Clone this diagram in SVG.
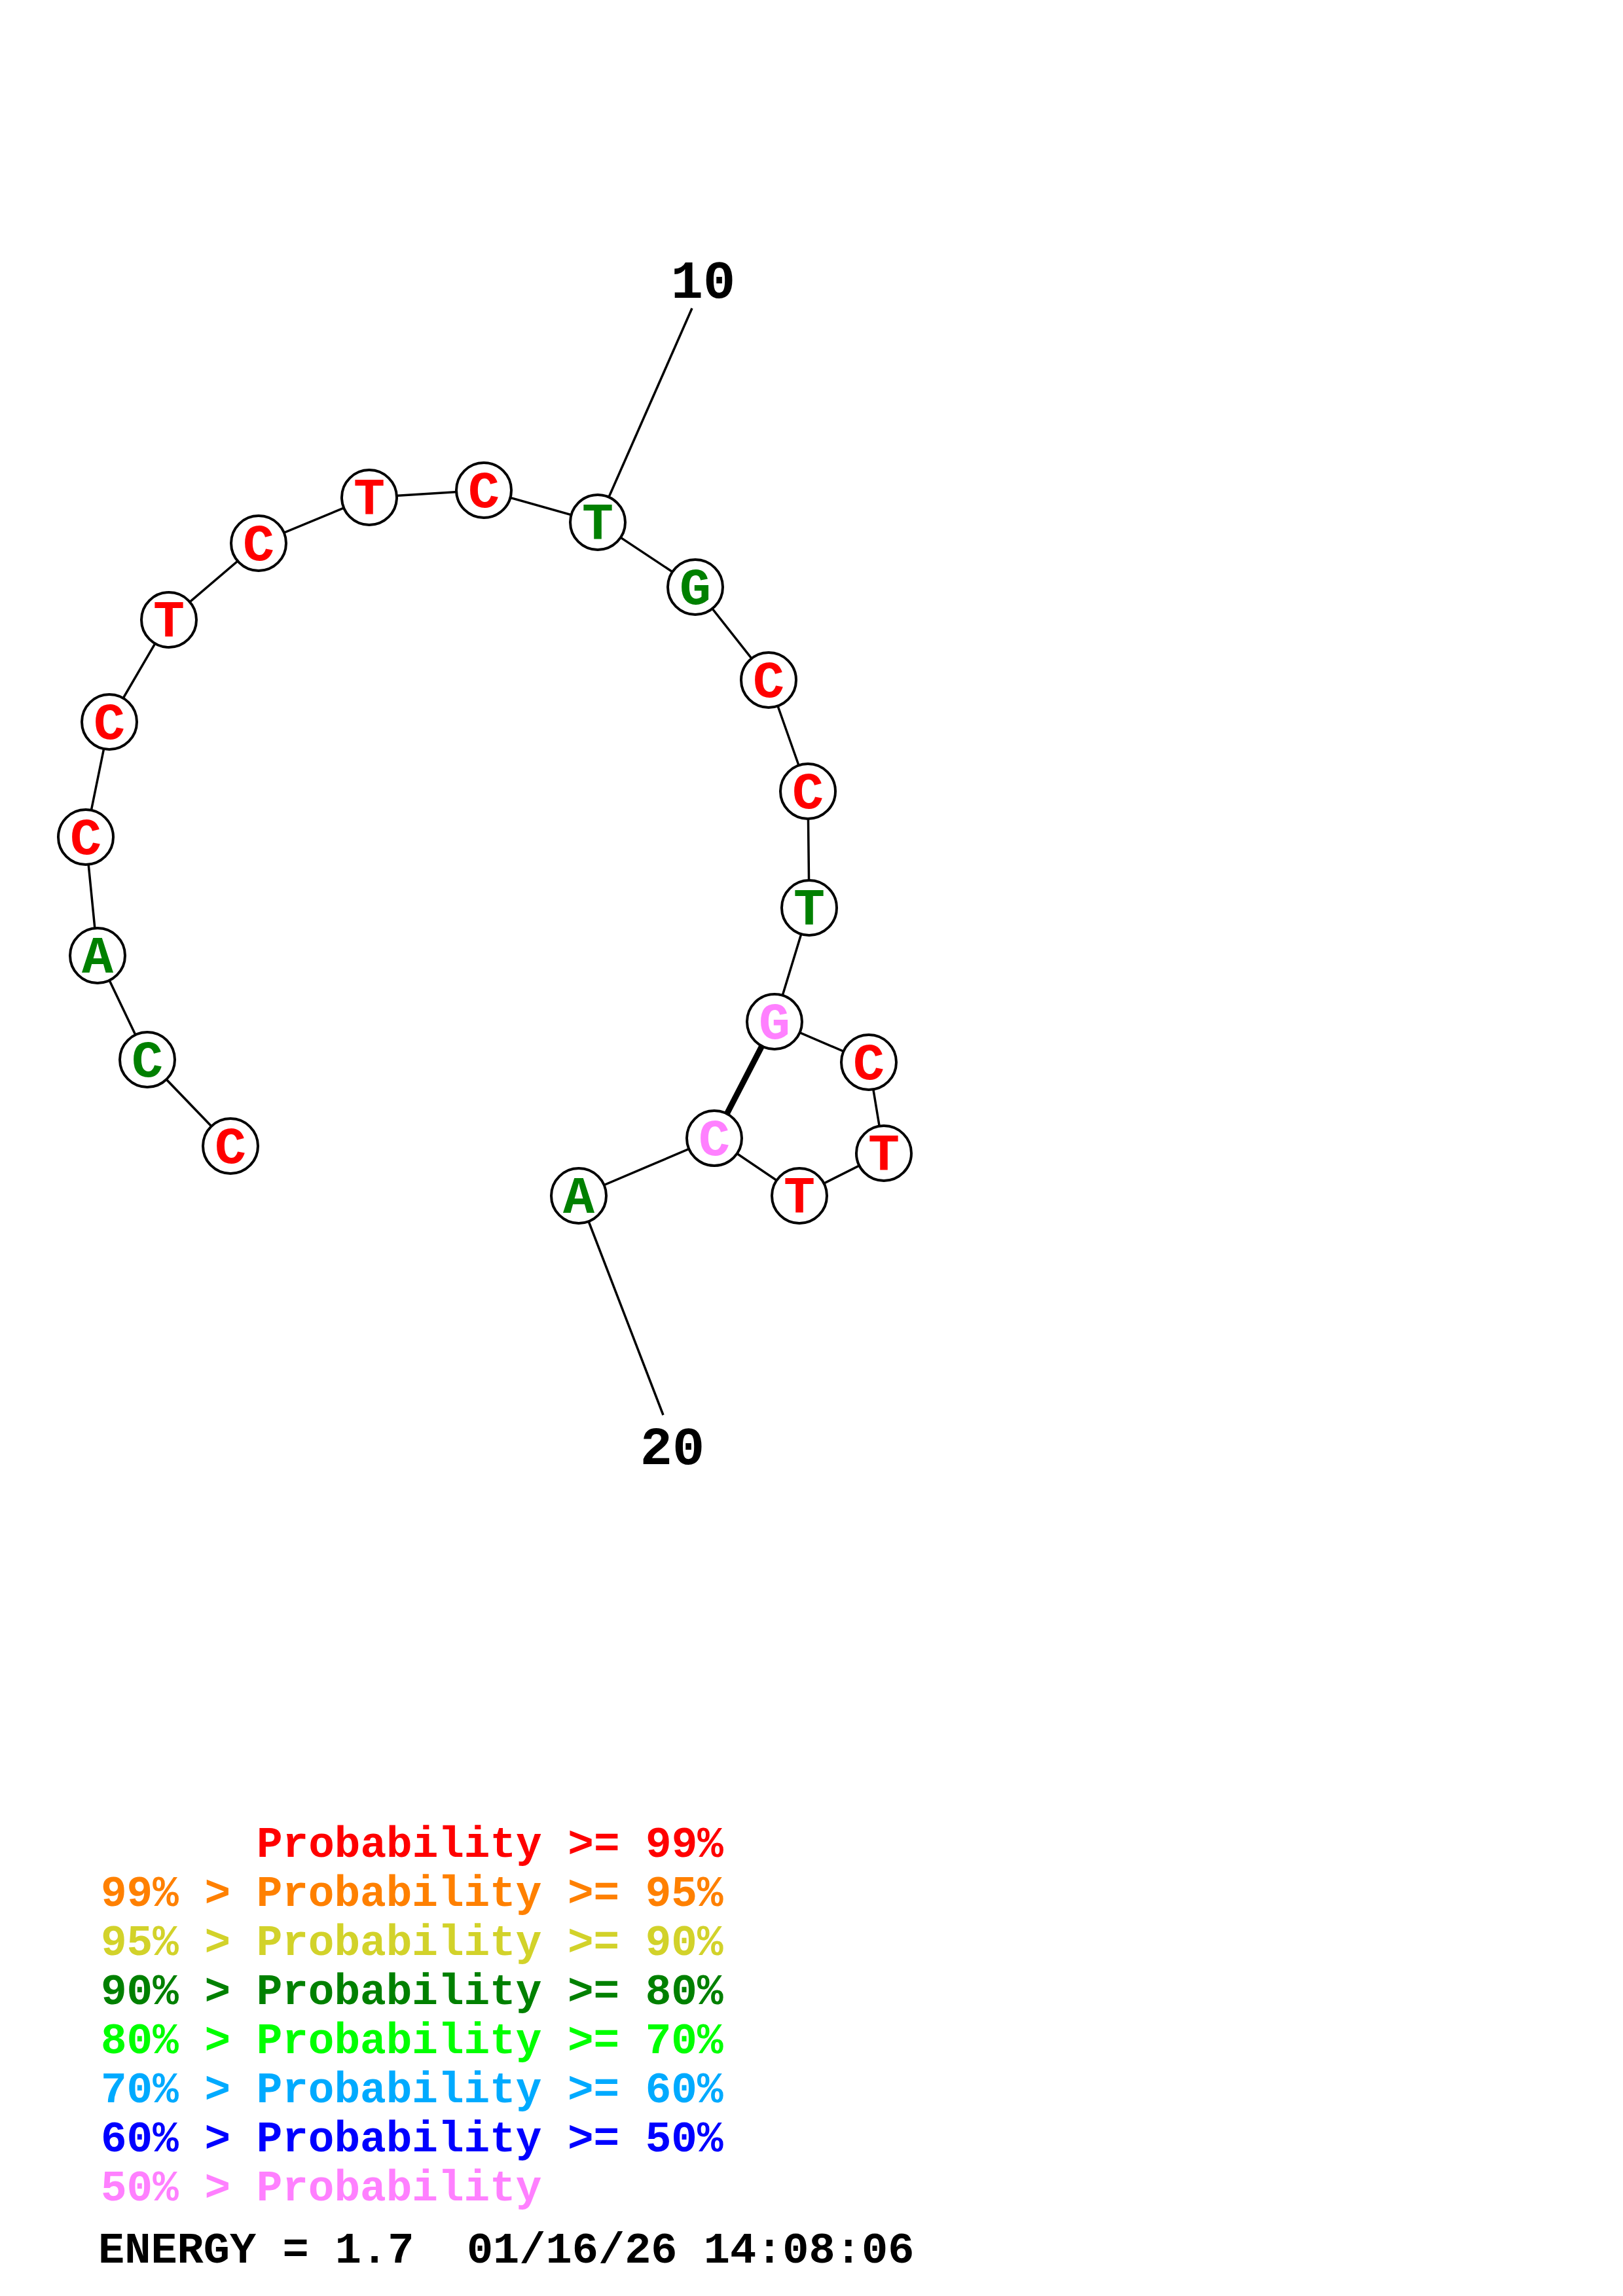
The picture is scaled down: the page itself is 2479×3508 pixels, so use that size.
<svg xmlns="http://www.w3.org/2000/svg" width="2479" height="3508" viewBox="0 0 2479 3508">
<style>
.bg{fill:#ffffff}
.ln{stroke:#000;stroke-width:3.5;fill:none}
.pair{stroke:#000;stroke-width:9;fill:none}
.nd{fill:#fff;stroke:#000;stroke-width:4}
.t{font-family:"Liberation Mono","Courier New",monospace;font-weight:bold;font-size:80px;text-anchor:middle}
.lab{font-family:"Liberation Mono","Courier New",monospace;font-weight:bold;font-size:82px;text-anchor:middle;fill:#000}
.lg{font-family:"Liberation Mono","Courier New",monospace;font-weight:bold;font-size:66px;white-space:pre}
.r{fill:#ff0000}.g{fill:#008000}.p{fill:#ff80ff}
</style>
<rect class="bg" x="0" y="0" width="2479" height="3508"/>
<g id="connectors">
<polyline class="ln" points="352,1751 225,1619 149,1460 131,1279 167,1103 258,947 395,830 564,760 739,749 913,798 1062,897 1174,1039 1234,1209 1236,1387 1183,1561 1327,1623 1350,1762 1221,1827 1091,1739 884,1827"/>
<line class="ln" x1="1057" y1="471" x2="913" y2="798"/>
<line class="ln" x1="884" y1="1827" x2="1013" y2="2162"/>
<line class="pair" x1="1183" y1="1561" x2="1091" y2="1739"/>
</g>
<g id="n1"><circle class="nd" cx="352" cy="1751" r="42"/><text class="t r" x="352" y="1777">C</text></g>
<g id="n2"><circle class="nd" cx="225" cy="1619" r="42"/><text class="t g" x="225" y="1645">C</text></g>
<g id="n3"><circle class="nd" cx="149" cy="1460" r="42"/><text class="t g" x="149" y="1486">A</text></g>
<g id="n4"><circle class="nd" cx="131" cy="1279" r="42"/><text class="t r" x="131" y="1305">C</text></g>
<g id="n5"><circle class="nd" cx="167" cy="1103" r="42"/><text class="t r" x="167" y="1129">C</text></g>
<g id="n6"><circle class="nd" cx="258" cy="947" r="42"/><text class="t r" x="258" y="973">T</text></g>
<g id="n7"><circle class="nd" cx="395" cy="830" r="42"/><text class="t r" x="395" y="856">C</text></g>
<g id="n8"><circle class="nd" cx="564" cy="760" r="42"/><text class="t r" x="564" y="786">T</text></g>
<g id="n9"><circle class="nd" cx="739" cy="749" r="42"/><text class="t r" x="739" y="775">C</text></g>
<g id="n10"><circle class="nd" cx="913" cy="798" r="42"/><text class="t g" x="913" y="824">T</text></g>
<g id="n11"><circle class="nd" cx="1062" cy="897" r="42"/><text class="t g" x="1062" y="923">G</text></g>
<g id="n12"><circle class="nd" cx="1174" cy="1039" r="42"/><text class="t r" x="1174" y="1065">C</text></g>
<g id="n13"><circle class="nd" cx="1234" cy="1209" r="42"/><text class="t r" x="1234" y="1235">C</text></g>
<g id="n14"><circle class="nd" cx="1236" cy="1387" r="42"/><text class="t g" x="1236" y="1413">T</text></g>
<g id="n15"><circle class="nd" cx="1183" cy="1561" r="42"/><text class="t p" x="1183" y="1587">G</text></g>
<g id="n16"><circle class="nd" cx="1327" cy="1623" r="42"/><text class="t r" x="1327" y="1649">C</text></g>
<g id="n17"><circle class="nd" cx="1350" cy="1762" r="42"/><text class="t r" x="1350" y="1788">T</text></g>
<g id="n18"><circle class="nd" cx="1221" cy="1827" r="42"/><text class="t r" x="1221" y="1853">T</text></g>
<g id="n19"><circle class="nd" cx="1091" cy="1739" r="42"/><text class="t p" x="1091" y="1765">C</text></g>
<g id="n20"><circle class="nd" cx="884" cy="1827" r="42"/><text class="t g" x="884" y="1853">A</text></g>
<g id="label10"><text class="lab" x="1074" y="455">10</text></g>
<g id="label20"><text class="lab" x="1027" y="2237">20</text></g>
<g id="legend">
<text class="lg" x="392" y="2837" fill="#ff0000">Probability &gt;= 99%</text>
<text class="lg" x="154" y="2912" fill="#ff8000">99% &gt; Probability &gt;= 95%</text>
<text class="lg" x="154" y="2987" fill="#d2d22a">95% &gt; Probability &gt;= 90%</text>
<text class="lg" x="154" y="3062" fill="#008000">90% &gt; Probability &gt;= 80%</text>
<text class="lg" x="154" y="3137" fill="#00ff00">80% &gt; Probability &gt;= 70%</text>
<text class="lg" x="154" y="3212" fill="#00aaff">70% &gt; Probability &gt;= 60%</text>
<text class="lg" x="154" y="3287" fill="#0000ff">60% &gt; Probability &gt;= 50%</text>
<text class="lg" x="154" y="3362" fill="#ff80ff">50% &gt; Probability</text>
<text class="lg" x="150" y="3457" fill="#000000" style="font-size:67px">ENERGY = 1.7  01/16/26 14:08:06</text>
</g>
</svg>
